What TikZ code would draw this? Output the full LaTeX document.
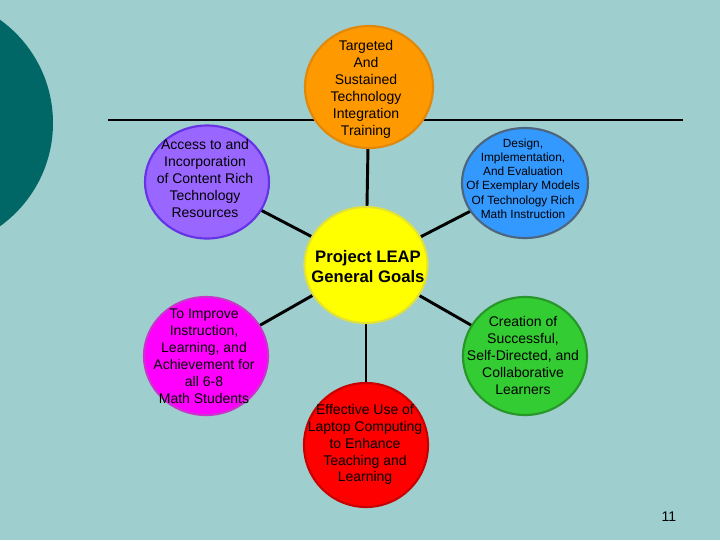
\documentclass[tikz,border=0pt]{standalone}
\usepackage{fontspec}
\setmainfont{Liberation Sans}
\usetikzlibrary{shapes.geometric}
\definecolor{bgc}{RGB}{158,206,206}
\definecolor{tealc}{RGB}{0,102,102}
\definecolor{orf}{RGB}{255,153,0}\definecolor{ord}{RGB}{224,136,10}
\definecolor{puf}{RGB}{153,102,255}\definecolor{pud}{RGB}{102,51,230}
\definecolor{blf}{RGB}{51,153,255}\definecolor{bld}{RGB}{77,102,128}
\definecolor{yef}{RGB}{255,255,0}\definecolor{yed}{RGB}{225,225,60}
\definecolor{mgf}{RGB}{255,0,255}\definecolor{mgd}{RGB}{204,51,204}
\definecolor{grf}{RGB}{51,204,51}\definecolor{grd}{RGB}{40,150,40}
\definecolor{rdf}{RGB}{255,0,0}\definecolor{rdd}{RGB}{200,0,0}
\pgfdeclarelayer{bgl}\pgfdeclarelayer{edl}
\pgfsetlayers{bgl,edl,main}
\tikzset{
  bub/.style 2 args={ellipse, line width=1.6pt, inner sep=0pt,
     minimum width={0.75pt*#1}, minimum height={0.75pt*#2}},
  txt/.style={align=center, inner sep=0pt, font=\fontsize{10.5pt}{12.7pt}\selectfont, text=black},
  conn/.style={line width=2.2pt, black}
}
\begin{document}
\begin{tikzpicture}[x=0.75pt,y=-0.75pt]
\begin{pgfonlayer}{bgl}
\fill[bgc] (0,0) rectangle (720,540);
\begin{scope}
\clip (0,0) rectangle (720,540);
\fill[tealc] (-74,123) circle[radius=127];
\end{scope}
\end{pgfonlayer}
\useasboundingbox (0,0) rectangle (720,540);

\node[bub={123}{116}, fill=yef, draw=yed] (c) at (366,265) {};
\node[bub={128}{122}, fill=orf, draw=ord] (o) at (369,87) {};
\node[bub={124}{113}, fill=puf, draw=pud] (p) at (207,182) {};
\node[bub={126}{110}, fill=blf, draw=bld] (b) at (525,183) {};
\node[bub={124}{118}, fill=mgf, draw=mgd] (m) at (206,356) {};
\node[bub={124}{118}, fill=grf, draw=grd] (g) at (525,356) {};
\node[bub={124}{124}, fill=rdf, draw=rdd] (r) at (366,445) {};

\coordinate (hl) at (108,120);
\coordinate (hr) at (683,120);
\begin{pgfonlayer}{edl}
\draw[line width=0.9pt] (hl) -- (hr);
\foreach \n in {o,p,b,m,g,r} \draw[conn] (c.center) -- (\n.center);
\end{pgfonlayer}

\node[txt] (ot) at (366,89.5) {Targeted\\And\\Sustained\\Technology\\Integration\\Training};
\node[txt] (pt) at (205,178.5) {Access to and\\Incorporation\\of Content Rich\\Technology\\Resources};
\node[txt, font=\fontsize{8.9pt}{10.7pt}\selectfont] (bt) at (523,178.5) {Design,\\Implementation,\\And Evaluation\\Of Exemplary Models\\Of Technology Rich\\Math Instruction};
\node[txt, font=\bfseries\fontsize{12.5pt}{15pt}\selectfont] (ct) at (368,267) {Project LEAP\\General Goals};
\node[txt] (mt) at (204,356) {To Improve\\Instruction,\\Learning, and\\Achievement for\\all 6-8\\Math Students};
\node[txt] (gt) at (523,355.5) {Creation of\\Successful,\\Self-Directed, and\\Collaborative\\Learners};
\node[txt] (rt) at (365,444.5) {Effective Use of\\Laptop Computing\\to Enhance\\Teaching and\\Learning};
\node[txt, font=\fontsize{10.5pt}{12pt}\selectfont] (pg) at (669,517) {11};
\end{tikzpicture}
\end{document}
